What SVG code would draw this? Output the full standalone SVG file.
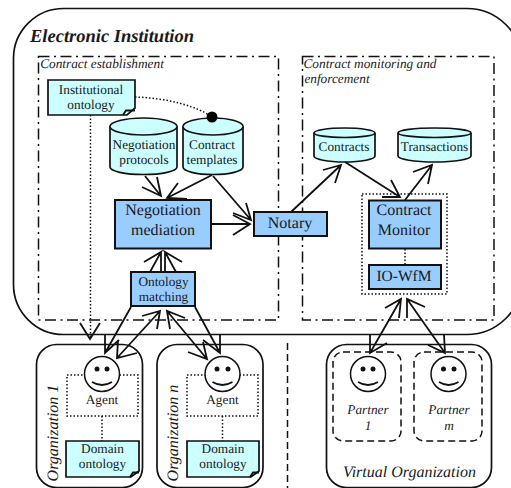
<svg xmlns="http://www.w3.org/2000/svg" width="511" height="488" viewBox="0 0 511 488">
<style>
text{font-family:"Liberation Serif","Times New Roman",serif;fill:#1a1a1a;text-anchor:middle;text-rendering:geometricPrecision}
.i{font-style:italic}
.box{fill:#99ccff;stroke:#111;stroke-width:2}
.cy{fill:#ccffff;stroke:#111;stroke-width:1.7}
.doc{fill:#ccffff;stroke:#111;stroke-width:1.7}
.rr{fill:none;stroke:#111;stroke-width:1.7}
.dd{fill:none;stroke:#111;stroke-width:1.5;stroke-dasharray:11 4.500 2 4.500}
.dot{fill:none;stroke:#111;stroke-width:1.5;stroke-dasharray:1.500 2}
.dash{fill:none;stroke:#111;stroke-width:1.5;stroke-dasharray:7 4}
.a{fill:none;stroke:#111;stroke-width:1.8}
.face{fill:#fff;stroke:#111;stroke-width:1.5}
.t12{font-size:13.300px}.t15{font-size:16px}.t16{font-size:16px}
</style>
<g id="institution">
<path d="M63.500 8.500H467C497 8.500 522 33 522 63V280C522 310 497 334.500 467 334.500H63.500C36 334.500 13.500 312 13.500 284.500V58.500C13.500 31 36 8.500 63.500 8.500Z" class="rr"/>
<text class="i" x="112" y="42" style="font-size:18.500px;font-weight:bold">Electronic Institution</text>
</g>
<g id="establishment">
<rect class="dd" x="38.500" y="56.500" width="240" height="263.500"/>
<text class="i t12" x="102" y="68">Contract establishment</text>
</g>
<g id="monitoring">
<rect class="dd" x="302.500" y="56.500" width="191.500" height="263.500"/>
<text class="i t12" x="370" y="68">Contract monitoring and</text>
<text class="i t12" x="337" y="83">enforcement</text>
</g>
<g id="institutional-ontology">
<path class="doc" d="M48 80H135V108L127 115H48Z"/><path class="a" d="M123 115L126 110.500H135"/>
<text class="t12" x="91" y="94">Institutional</text><text class="t12" x="91" y="109">ontology</text>
</g>
<g id="negotiation-protocols">
<path class="cy" d="M110 126.500A33.500 8.500 0 0 1 177 126.500V167A33.500 7.500 0 0 1 110 167Z"/><path class="cy" d="M110 126.500A33.500 8.500 0 0 0 177 126.500" fill="none"/>
<text class="t12" x="144" y="149">Negotiation</text><text class="t12" x="144" y="164">protocols</text>
</g>
<g id="contract-templates">
<path class="cy" d="M183 126.500A30 8.500 0 0 1 243 126.500V167A30 7.500 0 0 1 183 167Z"/><path class="cy" d="M183 126.500A30 8.500 0 0 0 243 126.500" fill="none"/>
<text class="t12" x="212" y="149">Contract</text><text class="t12" x="212" y="164">templates</text>
</g>
<g id="negotiation-mediation">
<rect class="box" x="115" y="200" width="96" height="48.500"/>
<text class="t15" x="163" y="215">Negotiation</text><text class="t15" x="163" y="235">mediation</text>
</g>
<g id="notary">
<rect class="box" x="254" y="212" width="73" height="24"/>
<text class="t15" x="290" y="228">Notary</text>
</g>
<g id="contracts">
<path class="cy" d="M314 133A30.500 5 0 0 1 375 133V156A30.500 6 0 0 1 314 156Z"/><path class="cy" d="M314 133A30.500 4.500 0 0 0 375 133" fill="none"/>
<text class="t12" x="344" y="151">Contracts</text>
</g>
<g id="transactions">
<path class="cy" d="M398 133A36.500 5 0 0 1 471 133V156A36.500 6 0 0 1 398 156Z"/><path class="cy" d="M398 133A36.500 4.500 0 0 0 471 133" fill="none"/>
<text class="t12" x="434.500" y="151">Transactions</text>
</g>
<g id="monitor-group">
<rect class="dot" x="362" y="194" width="85" height="100"/>
<path class="dot" d="M405 249V265"/>
</g>
<g id="contract-monitor">
<rect class="box" x="369" y="200.500" width="72" height="48"/>
<text class="t15" x="404" y="215">Contract</text><text class="t15" x="404" y="235">Monitor</text>
</g>
<g id="io-wfm">
<rect class="box" x="369" y="265" width="72" height="24"/>
<text x="404" y="281" style="font-size:15.500px">IO-WfM</text>
</g>
<g id="ontology-matching">
<rect class="box" x="131" y="272" width="64" height="34"/>
<text class="t12" x="163.500" y="286">Ontology</text><text class="t12" x="163.500" y="300.500">matching</text>
</g>
<g id="organization-1">
<rect class="rr" x="36.500" y="344.500" width="106" height="143" rx="20"/>
<text class="i t16" transform="translate(58 433) rotate(-90)">Organization 1</text>
<rect class="dot" x="67" y="375" width="71" height="41"/>
<circle class="face" cx="102" cy="374" r="17.500"/>
<circle cx="97" cy="369" r="2.500" fill="#111"/><circle cx="107" cy="369" r="2.500" fill="#111"/><path class="a" d="M92 382Q102 388 112 382"/>
<text class="t12" x="102" y="404">Agent</text>
<path class="dot" d="M102 416V441"/>
<path class="doc" d="M66 441H139V471L131 477H66Z"/><path class="a" d="M130 477L133 472.500H139"/>
<text class="t12" x="102.500" y="453">Domain</text><text class="t12" x="102.500" y="468">ontology</text>
</g>
<g id="organization-n">
<rect class="rr" x="157" y="344.500" width="106" height="143" rx="20"/>
<text class="i t16" transform="translate(178 433) rotate(-90)">Organization n</text>
<rect class="dot" x="187" y="375" width="71" height="41"/>
<circle class="face" cx="222.500" cy="374" r="17.500"/>
<circle cx="217" cy="369" r="2.500" fill="#111"/><circle cx="228" cy="369" r="2.500" fill="#111"/><path class="a" d="M212.500 382Q222.500 388 232.500 382"/>
<text class="t12" x="222.500" y="404">Agent</text>
<path class="dot" d="M222.500 416V441"/>
<path class="doc" d="M187 441H259V471L251 477H187Z"/><path class="a" d="M250 477L253 472.500H259"/>
<text class="t12" x="223" y="453">Domain</text><text class="t12" x="223" y="468">ontology</text>
</g>
<g id="virtual-organization">
<rect class="rr" x="326.500" y="344.500" width="165" height="143" rx="20"/>
<text class="i t16" x="409.500" y="477">Virtual Organization</text>
</g>
<g id="partner-1">
<rect class="dash" x="333" y="352" width="68" height="89" rx="10"/>
<circle class="face" cx="368" cy="374" r="17.500"/>
<circle cx="363" cy="369" r="2.500" fill="#111"/><circle cx="373" cy="369" r="2.500" fill="#111"/><path class="a" d="M358 382Q368 388 378 382"/>
<text class="i t12" x="368" y="414">Partner</text><text class="i t12" x="368" y="430">1</text>
</g>
<g id="partner-m">
<rect class="dash" x="414" y="352" width="68" height="89" rx="10"/>
<circle class="face" cx="448.500" cy="374" r="17.500"/>
<circle cx="443.500" cy="369" r="2.500" fill="#111"/><circle cx="454" cy="369" r="2.500" fill="#111"/><path class="a" d="M439 382Q448.500 388 458.500 382"/>
<text class="i t12" x="449" y="414">Partner</text><text class="i t12" x="449" y="430">m</text>
</g>
<g id="connectors">
<path class="dot" d="M135 97C165 98 195 105 212 117"/>
<circle cx="212" cy="117" r="5.500" fill="#000"/>
<path class="dot" d="M90.500 115V337"/>
<path class="a" d="M80 323L90 339L100 323"/>
<path class="a" d="M145 176L161 196M142 187L161 196L157 177"/>
<path class="a" d="M212 175L167 198M178 183L167 198L187 199"/>
<path class="a" d="M213 176L251 220M233 213L251 220L246 203"/>
<path class="a" d="M212 224H250M233 215L250 224L233 235"/>
<path class="a" d="M291 212L341 165M323 170L341 165L335 183"/>
<path class="a" d="M345 162L400 197M391 180L400 197L382 197"/>
<path class="a" d="M405 200L432 165M413 172L432 165L428 184"/>
<path class="a" d="M161 272V252M144 262L161 252L150 272"/>
<path class="a" d="M165 272V252M182 262L165 252L176 272"/>
<path class="a" d="M131 307L105 353M105 335V353L119 340"/>
<path class="a" d="M160 311L117 358M118 340L117 358L137 353M142 316L160 311L157 329"/>
<path class="a" d="M195 307L220 353M220 335V353L203 340"/>
<path class="a" d="M167 311L207 359M188 352L207 359L203 342M185 318L167 311L170 329"/>
<path class="a" d="M401 299L370 353M370 335V353L387 343M385 308L401 299L399 318"/>
<path class="a" d="M407 299L445 353M444 335L445 353L428 345M425 307L407 299V318"/>
<path class="dash" d="M287.500 343V488"/>
</g>
</svg>
